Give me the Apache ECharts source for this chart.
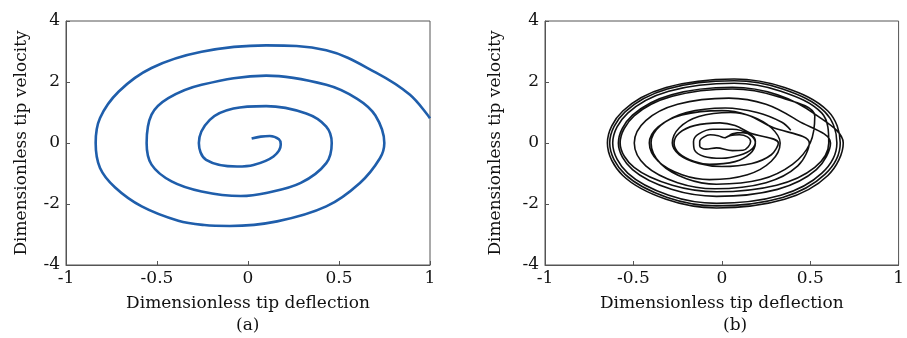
<!DOCTYPE html>
<html>
<head>
<meta charset="utf-8">
<script src="https://cdn.jsdelivr.net/npm/echarts@6/dist/echarts.min.js"></script>
<style>
  html, body { margin: 0; padding: 0; background: #fff; }
  #chart { width: 907px; height: 338px; }
</style>
</head>
<body>
<div id="chart"></div>
<script>
// axis ticks
var xTicks = [-1, -0.5, 0, 0.5, 1]
var yTicks = [-4, -2, 0, 2, 4]

// (a) damped spiral, centre outwards
var spiralA = [
  [0.02, 0.15], [0.07, 0.21], [0.12, 0.23], [0.17, 0.12], [0.18, -0.05],
  [0.14, -0.44], [0.03, -0.72], [-0.06, -0.77], [-0.23, -0.55], [-0.27, 0],
  [-0.21, 0.76], [-0.08, 1.13], [0.1, 1.21], [0.32, 0.97], [0.43, 0.54],
  [0.46, 0], [0.43, -0.66], [0.29, -1.31], [0.1, -1.64], [-0.04, -1.74],
  [-0.255, -1.59], [-0.42, -1.26], [-0.53, -0.71], [-0.557, 0], [-0.53, 0.93],
  [-0.438, 1.47], [-0.255, 1.91], [0.1, 2.21], [0.43, 1.91], [0.6, 1.45],
  [0.7, 0.9], [0.749, 0], [0.725, -0.5], [0.615, -1.31], [0.43, -2.08],
  [0.16, -2.57], [-0.1, -2.72], [-0.24, -2.69], [-0.383, -2.55], [-0.584, -2.08],
  [-0.73, -1.46], [-0.813, -0.82], [-0.837, 0], [-0.813, 0.82], [-0.71, 1.69],
  [-0.53, 2.46], [-0.255, 2.99], [0.1, 3.2], [0.43, 3.04], [0.706, 2.3],
  [0.89, 1.58], [1.0, 0.81]
]

// (b) forced response, loops
var heartInner = [
  [0.016, 0.16], [0.05, 0.25], [0.1, 0.27], [0.145, 0.2], [0.163, 0.05],
  [0.15, -0.12], [0.12, -0.24], [0.06, -0.25], [-0.03, -0.16], [-0.09, -0.2],
  [-0.125, -0.1], [-0.125, 0.05], [-0.1, 0.2], [-0.066, 0.27], [-0.02, 0.24],
  [0.016, 0.17]
]
var heartOuter = [
  [0.06, 0.3], [0.12, 0.34], [0.17, 0.25], [0.19, 0.05], [0.17, -0.2],
  [0.1, -0.4], [0.0, -0.5], [-0.1, -0.44], [-0.155, -0.22], [-0.16, 0.05],
  [-0.13, 0.3], [-0.05, 0.45], [0.06, 0.45], [0.15, 0.3]
]
var loop3 = [
  [0.19, 0], [0.16, -0.35], [0.075, -0.61], [-0.07, -0.7], [-0.155, -0.61],
  [-0.24, -0.35], [-0.27, 0], [-0.24, 0.33], [-0.155, 0.57], [-0.01, 0.66],
  [0.075, 0.57], [0.16, 0.33]
]
var loop4 = [
  [0.32, 0], [0.28, -0.385], [0.17, -0.67], [0.0, -0.77], [-0.13, -0.67],
  [-0.24, -0.385], [-0.28, 0], [-0.24, 0.5], [-0.13, 0.87], [0.05, 1.0],
  [0.17, 0.87], [0.28, 0.5]
]
var loop5 = [
  [0.33, 0], [0.28, -0.6], [0.145, -1.04], [-0.07, -1.2], [-0.225, -1.04],
  [-0.36, -0.6], [-0.41, 0], [-0.36, 0.53], [-0.225, 0.92], [0.0, 1.06],
  [0.145, 0.92], [0.28, 0.53]
]
var loop6 = [
  [0.495, 0], [0.43, -0.75], [0.25, -1.3], [-0.04, -1.5], [-0.25, -1.3],
  [-0.43, -0.75], [-0.495, 0], [-0.43, 0.735], [-0.25, 1.27], [0.04, 1.47],
  [0.25, 1.27], [0.43, 0.735]
]
var loop7 = [
  [0.615, 0], [0.535, -0.875], [0.315, -1.52], [-0.03, -1.75], [-0.285, -1.52],
  [-0.505, -0.875], [-0.585, 0], [-0.505, 0.915], [-0.285, 1.585], [0.06, 1.83],
  [0.315, 1.585], [0.535, 0.915]
]
var loop8 = [
  [0.687, 0], [0.6, -1.065], [0.355, -1.845], [-0.03, -2.13], [-0.315, -1.845],
  [-0.56, -1.065], [-0.647, 0], [-0.56, 1.05], [-0.315, 1.82], [0.07, 2.1],
  [0.355, 1.82], [0.6, 1.05]
]
var loop9 = [
  [0.67, 0], [0.583, -1.03], [0.344, -1.785], [-0.03, -2.06], [-0.308, -1.785],
  [-0.547, -1.03], [-0.634, 0], [-0.547, 1.02], [-0.308, 1.77], [0.07, 2.04],
  [0.344, 1.77], [0.583, 1.02]
]
var loop10 = [
  [0.651, 0], [0.566, -0.99], [0.334, -1.715], [-0.03, -1.98], [-0.3, -1.715],
  [-0.532, -0.99], [-0.617, 0], [-0.532, 0.98], [-0.3, 1.7], [0.07, 1.96],
  [0.334, 1.7], [0.566, 0.98]
]
var loop11 = [
  [0.605, 0], [0.526, -0.8], [0.31, -1.385], [-0.03, -1.6], [-0.28, -1.385],
  [-0.496, -0.8], [-0.575, 0], [-0.496, 0.885], [-0.28, 1.53], [0.06, 1.77],
  [0.31, 1.53], [0.526, 0.885]
]
var loop12 = [
  [0.5, 0], [0.4, -0.7], [0.22, -1.2], [-0.03, -1.35], [-0.2, -1.17],
  [-0.346, -0.675], [-0.4, 0], [-0.346, 0.575], [-0.2, 1.0], [0.02, 1.15],
  [0.2, 1.0], [0.34, 0.68], [0.39, 0.42]
]

var trajB = [].concat(heartInner, heartOuter, loop3, loop4, loop5, loop6,
  loop7, loop8, loop9, loop10, loop11, loop12)

var font = 'DejaVu Serif'
var axisColor = '#555'

function xAxisOf(idx) {
  return {
    type: 'value', gridIndex: idx, min: -1, max: 1, interval: 0.5,
    name: 'Dimensionless tip deflection', nameLocation: 'middle', nameGap: 30,
    nameTextStyle: { fontFamily: font, fontSize: 17, color: '#111' },
    axisLine: { onZero: false, lineStyle: { color: axisColor, width: 1 } },
    axisTick: { inside: true, length: 4, lineStyle: { color: axisColor } },
    axisLabel: { fontFamily: font, fontSize: 17, color: '#111', margin: 5 },
    splitLine: { show: false }
  }
}
function yAxisOf(idx, gap) {
  return {
    type: 'value', gridIndex: idx, min: -4, max: 4, interval: 2,
    name: 'Dimensionless tip velocity', nameLocation: 'middle', nameGap: gap,
    nameTextStyle: { fontFamily: font, fontSize: 17, color: '#111' },
    axisLine: { onZero: false, lineStyle: { color: axisColor, width: 1 } },
    axisTick: { inside: true, length: 4, lineStyle: { color: axisColor } },
    axisLabel: { fontFamily: font, fontSize: 17, color: '#111', margin: 6 },
    splitLine: { show: false }
  }
}

var chart = echarts.init(document.getElementById('chart'), null, { renderer: 'canvas' })
chart.setOption({
  animation: false,
  backgroundColor: '#fff',
  grid: [
    { left: 66, top: 21, width: 364, height: 244, show: true, borderColor: axisColor, borderWidth: 1 },
    { left: 545, top: 21, width: 364, height: 244, show: true, borderColor: axisColor, borderWidth: 1 }
  ],
  xAxis: [xAxisOf(0), xAxisOf(1)],
  yAxis: [yAxisOf(0, 36), yAxisOf(1, 41)],
  graphic: [
    { type: 'text', left: 236, top: 317, style: { text: '(a)', fontFamily: font, fontSize: 17, fill: '#111' } },
    { type: 'text', left: 723, top: 317, style: { text: '(b)', fontFamily: font, fontSize: 17, fill: '#111' } }
  ],
  series: [
    {
      type: 'line', xAxisIndex: 0, yAxisIndex: 0, data: spiralA,
      smooth: 0.36, showSymbol: false, clip: true,
      lineStyle: { color: '#1f5eab', width: 2.6 }
    },
    {
      type: 'line', xAxisIndex: 1, yAxisIndex: 1, data: trajB,
      smooth: 0.36, showSymbol: false, clip: true,
      lineStyle: { color: '#111', width: 1.6 }
    }
  ]
})
</script>
</body>
</html>
